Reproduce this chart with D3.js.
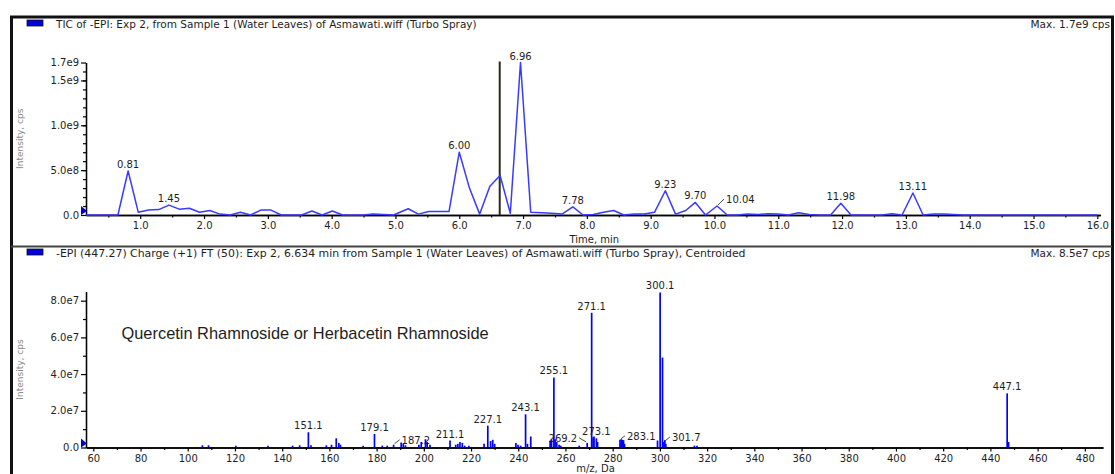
<!DOCTYPE html>
<html>
<head>
<meta charset="utf-8">
<script src="https://cdn.jsdelivr.net/npm/d3@7"></script>
<style>
  html, body { margin: 0; padding: 0; background: #fff; }
  svg { display: block; }
  text { font-family: "DejaVu Sans", Verdana, sans-serif; fill: #1e1e1e; }
</style>
</head>
<body>
<svg id="chart" width="1115" height="474"></svg>
<script>
// ---------- TIC chromatogram (top pane) ----------
const ticTimes = [0.15, 0.33, 0.49, 0.65, 0.81, 0.97, 1.13, 1.29, 1.45, 1.61, 1.77, 1.93, 2.09, 2.25,
  2.41, 2.57, 2.73, 2.89, 3.05, 3.21, 3.37, 3.53, 3.69, 3.85, 4.01, 4.17, 4.33, 4.49, 4.65, 4.81,
  4.97, 5.20, 5.36, 5.52, 5.68, 5.84, 6.00, 6.16, 6.32, 6.48, 6.64, 6.80, 6.96, 7.12, 7.29, 7.45,
  7.61, 7.78, 7.94, 8.10, 8.26, 8.42, 8.58, 8.74, 8.90, 9.06, 9.23, 9.39, 9.55, 9.70, 9.86, 10.04,
  10.20, 10.36, 10.52, 10.68, 10.84, 11.00, 11.16, 11.32, 11.48, 11.64, 11.82, 11.98, 12.14, 12.30,
  12.46, 12.62, 12.78, 12.94, 13.11, 13.27, 13.43, 13.59, 13.75, 13.91, 14.07, 14.50, 15.00, 15.50, 16.00];
const ticIntensity = [0, 0, 0, 0, 4.9e8, 3.0e7, 5.5e7, 6.0e7, 1.1e8, 6.5e7, 7.5e7, 3.0e7, 5.0e7, 1.0e7,
  0, 3.0e7, 0, 5.5e7, 5.5e7, 0, 0, 0, 4.5e7, 0, 4.5e7, 0, 0, 0, 1.0e7, 5.0e6,
  0, 7.0e7, 1.0e7, 4.0e7, 4.0e7, 4.0e7, 7.0e8, 3.0e8, 1.0e7, 3.2e8, 4.4e8, 2.0e7, 1.7e9, 3.0e7, 2.5e7, 2.0e7,
  1.0e7, 9.0e7, 0, 5.0e6, 3.0e7, 5.0e7, 0, 1.0e7, 1.0e7, 3.0e7, 2.7e8, 1.0e7, 5.0e7, 1.4e8, 0, 1.0e8,
  0, 0, 1.0e7, 5.0e6, 1.5e7, 1.0e7, 0, 2.5e7, 5.0e6, 0, 0, 1.3e8, 0, 0,
  0, 0, 1.5e7, 0, 2.45e8, 0, 1.0e7, 1.0e7, 5.0e6, 0, 0, 0, 0, 0, 0];
const ticPeakLabels = ["0.81", "1.45", "6.00", "6.96", "7.78", "9.23", "9.70", "10.04", "11.98", "13.11"];
const ticXTicks = [1, 2, 3, 4, 5, 6, 7, 8, 9, 10, 11, 12, 13, 14, 15, 16];
const ticXTickLabels = ["1.0", "2.0", "3.0", "4.0", "5.0", "6.0", "7.0", "8.0", "9.0", "10.0", "11.0", "12.0", "13.0", "14.0", "15.0", "16.0"];
const ticYTicks = [0, 5e8, 1e9, 1.5e9, 1.7e9];
const ticYTickLabels = ["0.0", "5.0e8", "1.0e9", "1.5e9", "1.7e9"];
const selectedTime = 6.634;

// ---------- product-ion spectrum (bottom pane) ----------
const mzValues = [106.2, 108.8, 120.4, 134.0, 144.4, 147.4, 151.1, 152.2, 158.7, 160.9, 162.9, 164.0, 164.7,
  174.3, 179.1, 182.4, 184.5, 187.2, 190.4, 191.3, 192.2, 197.9, 198.9, 200.7, 201.4, 202.6, 211.1,
  213.5, 214.4, 215.3, 216.3, 217.3, 219.1, 225.5, 227.1, 228.3, 229.2, 230.0, 239.0, 239.9, 241.0,
  243.1, 243.9, 245.3, 253.5, 254.1, 255.1, 255.6, 256.3, 257.3, 258.0, 265.8, 269.2, 271.1, 271.7,
  272.1, 273.1, 273.6, 283.1, 283.6, 284.1, 284.6, 285.0, 299.0, 300.1, 301.1, 301.7, 302.1, 302.5,
  314.6, 315.7, 447.1, 447.7];
const mzIntensity = [1.2e6, 1.2e6, 1.0e6, 1.0e6, 1.0e6, 1.2e6, 8.3e6, 1.2e6, 1.2e6, 1.5e6, 5.0e6, 2.5e6, 1.5e6,
  1.0e6, 7.4e6, 1.0e6, 1.0e6, 1.5e6, 2.7e6, 2.0e6, 1.2e6, 1.5e6, 3.0e6, 4.5e6, 3.0e6, 1.5e6, 3.8e6,
  1.5e6, 2.0e6, 3.0e6, 2.5e6, 1.0e6, 1.0e6, 2.0e6, 1.19e7, 3.5e6, 4.2e6, 2.0e6, 2.5e6, 1.5e6, 1.0e6,
  1.81e7, 2.0e6, 6.0e6, 3.5e6, 4.5e6, 3.82e7, 4.5e6, 3.0e6, 1.5e6, 1.0e6, 1.0e6, 2.5e6, 7.34e7, 5.5e6,
  6.0e6, 5.0e6, 3.0e6, 4.2e6, 4.5e6, 4.2e6, 4.0e6, 2.0e6, 3.8e6, 8.45e7, 4.9e7, 3.0e6, 4.0e6, 2.0e6,
  1.0e6, 1.0e6, 2.95e7, 3.0e6];
const mzPeakLabels = ["151.1", "179.1", "187.2", "211.1", "227.1", "243.1", "255.1", "269.2", "271.1",
  "273.1", "283.1", "300.1", "301.7", "447.1"];
const msXTicks = d3.range(60, 481, 20);
const msYTicks = [0, 2e7, 4e7, 6e7, 8e7];
const msYTickLabels = ["0.0", "2.0e7", "4.0e7", "6.0e7", "8.0e7"];
const compoundNote = "Quercetin Rhamnoside or Herbacetin Rhamnoside";

// labels that are pushed aside and tied to their peak with a short leader
const leaderOffsets = {
  "10.04": { dx: 9, dy: -6, anchor: "start" },
  "187.2": { dx: 8, dy: -4, anchor: "start" },
  "269.2": { dx: -10, dy: -4, anchor: "end" },
  "283.1": { dx: 7, dy: -3, anchor: "start" },
  "301.7": { dx: 8, dy: -4, anchor: "start" }
};

const svg = d3.select("#chart");
const blue = "#0000ff";
const labelSize = 10;

// ---------- scales ----------
const xT = d3.scaleLinear().domain([0.15, 16.05]).range([86, 1100.5]);
const yT = d3.scaleLinear().domain([0, 1.7e9]).range([215, 62.5]);
const xM = d3.scaleLinear().domain([56.9, 487.7]).range([86, 1103]);
const yM = d3.scaleLinear().domain([0, 8.5e7]).range([447.5, 291.5]);

// ---------- frame and pane headers ----------
svg.append("rect").attr("x", 11.5).attr("y", 17).attr("width", 1101).attr("height", 480)
  .attr("fill", "none").attr("stroke", "#111").attr("stroke-width", 3);
svg.append("line").attr("x1", 11).attr("x2", 1112).attr("y1", 246.5).attr("y2", 246.5)
  .attr("stroke", "#444").attr("stroke-width", 2);

function header(y, title, maxText, size) {
  svg.append("rect").attr("x", 27).attr("y", y - 8).attr("width", 16).attr("height", 6)
    .attr("fill", "#0000e0").attr("stroke", "#111").attr("stroke-width", 0.8);
  svg.append("text").attr("x", 56).attr("y", y).attr("font-size", size).text(title);
  svg.append("text").attr("x", 1110).attr("y", y).attr("font-size", 10.5)
    .attr("text-anchor", "end").text(maxText);
}
header(28, "TIC of -EPI: Exp 2, from Sample 1 (Water Leaves) of Asmawati.wiff (Turbo Spray)", "Max. 1.7e9 cps", 10.5);
header(257, "-EPI (447.27) Charge (+1) FT (50): Exp 2, 6.634 min from Sample 1 (Water Leaves) of Asmawati.wiff (Turbo Spray), Centroided", "Max. 8.5e7 cps", 10.9);

// ---------- axis helpers ----------
function styleAxis(g) {
  g.select(".domain").attr("stroke", "#000").attr("stroke-width", 1.3);
  g.selectAll(".tick line").attr("stroke", "#000").attr("stroke-width", 1.2);
  g.selectAll(".tick text").attr("font-size", labelSize).attr("fill", "#1e1e1e")
    .attr("font-family", "DejaVu Sans, sans-serif");
}
function drawAxes(x, y, xMajor, xLabels, xMinor, yMajor, yLabels, yMinor, xTitle, yTitle, xTitleDy) {
  const y0 = y.range()[0], x0 = x.range()[0];
  // minor ticks
  svg.append("g").attr("transform", `translate(0,${y0})`)
    .call(d3.axisBottom(x).tickValues(xMinor).tickSize(2.5).tickFormat("").tickSizeOuter(0))
    .call(styleAxis);
  svg.append("g").attr("transform", `translate(${x0},0)`)
    .call(d3.axisLeft(y).tickValues(yMinor).tickSize(3).tickFormat("").tickSizeOuter(0))
    .call(styleAxis);
  // major ticks
  svg.append("g").attr("transform", `translate(0,${y0})`)
    .call(d3.axisBottom(x).tickValues(xMajor).tickSize(4).tickPadding(3)
      .tickFormat((d, i) => xLabels[i]).tickSizeOuter(0))
    .call(styleAxis);
  svg.append("g").attr("transform", `translate(${x0},0)`)
    .call(d3.axisLeft(y).tickValues(yMajor).tickSize(5).tickPadding(2)
      .tickFormat((d, i) => yLabels[i]).tickSizeOuter(0))
    .call(styleAxis);
  // titles
  const xr = x.range();
  svg.append("text").attr("x", (xr[0] + xr[1]) / 2 + 1).attr("y", y0 + xTitleDy)
    .attr("text-anchor", "middle").attr("font-size", 10).text(xTitle);
  const yr = y.range();
  svg.append("text").attr("transform", `translate(23,${(yr[0] + yr[1]) / 2}) rotate(-90)`)
    .attr("text-anchor", "middle").attr("font-size", 9)
    .style("fill", "#8a8a8a").text(yTitle);
  // origin marker
  svg.append("path")
    .attr("d", `M${x0 - 5},${y0 - 9} L${x0 + 1},${y0 - 4} L${x0 - 5},${y0}Z`)
    .attr("fill", "#0000c8");
}

// ---------- top pane: TIC ----------
drawAxes(xT, yT, ticXTicks, ticXTickLabels, d3.range(0.5, 16, 1),
  ticYTicks, ticYTickLabels, d3.range(1e8, 1.7e9, 1e8), "Time, min", "Intensity, cps", 28);

svg.append("line")
  .attr("x1", xT(selectedTime)).attr("x2", xT(selectedTime))
  .attr("y1", yT(1.7e9) - 1).attr("y2", yT(0))
  .attr("stroke", "#2a2a18").attr("stroke-width", 2);

const ticData = ticTimes.map((t, i) => ({ t, v: ticIntensity[i] }));
svg.append("path").datum(ticData)
  .attr("fill", "none").attr("stroke", "#3a3aff").attr("stroke-width", 1.5)
  .attr("stroke-linejoin", "round")
  .attr("d", d3.line().x(d => xT(d.t)).y(d => yT(d.v)));

function placeLabel(label, px, py) {
  const off = leaderOffsets[label];
  if (off) {
    svg.append("path")
      .attr("d", `M${px + Math.sign(off.dx)},${py - 1} L${px + off.dx - Math.sign(off.dx) * 2},${py + off.dy - 1}`)
      .attr("stroke", "#333").attr("stroke-width", 0.9).attr("fill", "none");
    svg.append("text").attr("x", px + off.dx).attr("y", py + off.dy + 3)
      .attr("text-anchor", off.anchor).attr("font-size", labelSize).text(label);
  } else {
    svg.append("text").attr("x", px).attr("y", py - 3)
      .attr("text-anchor", "middle").attr("font-size", labelSize).text(label);
  }
}

ticPeakLabels.forEach(lbl => {
  const t = +lbl;
  const i = d3.minIndex(ticTimes, d => Math.abs(d - t));
  placeLabel(lbl, xT(ticTimes[i]), yT(ticIntensity[i]));
});

// ---------- bottom pane: spectrum ----------
drawAxes(xM, yM, msXTicks, msXTicks.map(String), d3.range(70, 481, 20),
  msYTicks, msYTickLabels, d3.range(1e7, 8.5e7, 2e7), "m/z, Da", "Intensity, cps", 24);

svg.append("g").selectAll("line")
  .data(mzValues.map((m, i) => ({ m, v: mzIntensity[i] })))
  .join("line")
  .attr("x1", d => xM(d.m)).attr("x2", d => xM(d.m))
  .attr("y1", yM(0)).attr("y2", d => yM(d.v))
  .attr("stroke", blue).attr("stroke-width", 1.7);

mzPeakLabels.forEach(lbl => {
  const m = +lbl;
  const i = d3.minIndex(mzValues, d => Math.abs(d - m));
  placeLabel(lbl, xM(mzValues[i]), yM(mzIntensity[i]));
});

svg.append("text").attr("x", 121.5).attr("y", 339)
  .style("font-family", "Liberation Sans, Arial, sans-serif")
  .attr("font-size", 16.4).text(compoundNote);
</script>
</body>
</html>
